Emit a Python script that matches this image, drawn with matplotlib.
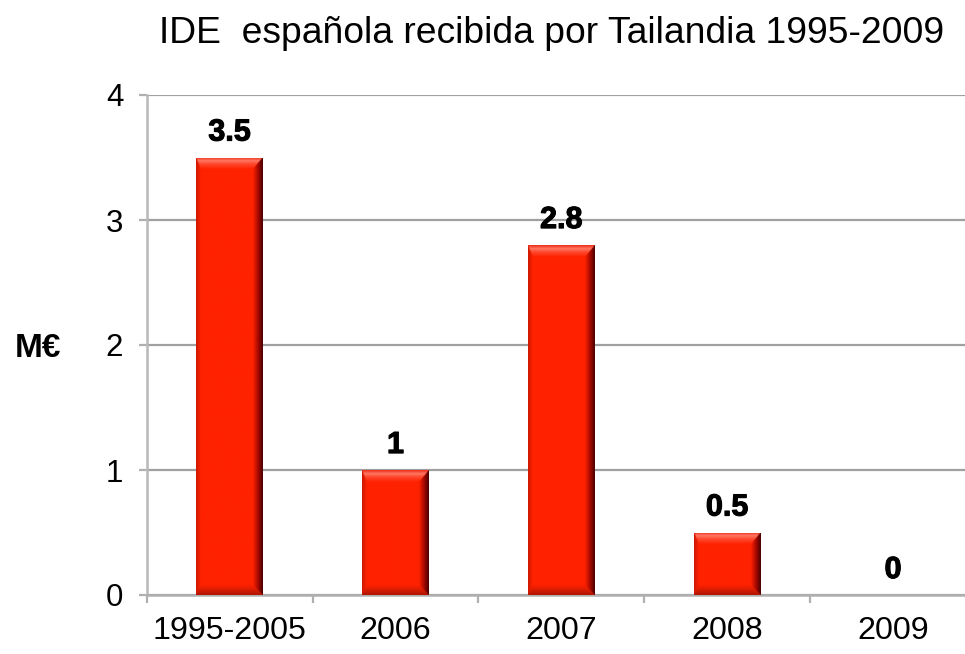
import numpy as np
import matplotlib
matplotlib.use("Agg")
import matplotlib.pyplot as plt
import matplotlib.patheffects as pe

plt.rcParams['font.family'] = ['Liberation Sans', 'DejaVu Sans']

categories = ["1995-2005", "2006", "2007", "2008", "2009"]
values = [3.5, 1, 2.8, 0.5, 0]
yticks = [0, 1, 2, 3, 4]
title = "IDE  española recibida por Tailandia 1995-2009"
ylabel = "M€"

W_PX, H_PX = 965, 654
fig = plt.figure(figsize=(W_PX / 100, H_PX / 100), dpi=100)
ax = fig.add_axes([146.7 / W_PX, 1 - 595 / H_PX, (976 - 146.7) / W_PX, 500 / H_PX])

x = np.arange(len(categories))
base = (255, 34, 0)
bars = ax.bar(x, values, width=0.4, color=np.array(base) / 255, zorder=2, linewidth=0)

ax.set_xlim(-0.5, len(categories) - 0.5)
ax.set_ylim(0, 4)
ax.set_yticks(yticks)
ax.set_yticklabels([str(t) for t in yticks], fontsize=22.5)
ax.set_xticks(x)
ax.set_xticklabels(categories, fontsize=23.2)
ax.set_xticks(np.arange(-0.5, len(categories), 1.0), minor=True)
ax.tick_params(axis='x', which='major', length=0, pad=15)
ax.tick_params(axis='x', which='minor', length=5.8, width=1.6, color='#b0b0b0')
ax.tick_params(axis='y', which='major', length=5.8, width=1.6, color='#b0b0b0', pad=11)

ax.set_axisbelow(True)
ax.grid(axis='y', color='#a0a0a0', linewidth=1.6, zorder=0)
for s in ['top', 'right']:
    ax.spines[s].set_visible(False)
ax.spines['left'].set_color('#b8b8b8')
ax.spines['left'].set_linewidth(1.8)
ax.spines['bottom'].set_color('#b0b0b0')
ax.spines['bottom'].set_linewidth(1.8)

# bevel shading for each bar, clipped to the bar patch
fig.canvas.draw()
profiles = {
    'top': ([0, 0.3, 0.55, 1], [(235, 40, 20), (255, 120, 100), (255, 75, 50), base]),
    'right': ([0, 0.5, 1], [(70, 0, 0), (170, 10, 0), base]),
    'bottom': ([0, 0.5, 1], [(175, 20, 0), (215, 28, 0), base]),
    'left': ([0, 1], [(205, 25, 0), base]),
}
widths = {'top': 12, 'right': 10, 'bottom': 10, 'left': 5}
for patch in bars:
    h = patch.get_height()
    if h <= 0:
        continue
    x0, w = patch.get_x(), patch.get_width()
    p0 = ax.transData.transform((x0, 0))
    p1 = ax.transData.transform((x0 + w, h))
    S = 3
    Wp = max(int(round((p1[0] - p0[0]) * S)), 1)
    Hp = max(int(round((p1[1] - p0[1]) * S)), 1)
    jj, ii = np.meshgrid(np.arange(Wp), np.arange(Hp))
    d = {
        'top': (ii + 0.5) / S / widths['top'],
        'bottom': (Hp - ii - 0.5) / S / widths['bottom'],
        'left': (jj + 0.5) / S / widths['left'],
        'right': (Wp - jj - 0.5) / S / widths['right'],
    }
    keys = ['top', 'bottom', 'left', 'right']
    stack = np.stack([d[k] for k in keys])
    idx = np.argmin(stack, axis=0)
    tmin = np.clip(np.min(stack, axis=0), 0, 1)
    img = np.zeros((Hp, Wp, 3))
    for c in range(3):
        img[..., c] = base[c]
    for k_i, k in enumerate(keys):
        mask = idx == k_i
        xs, cols = profiles[k]
        for c in range(3):
            img[..., c][mask] = np.interp(tmin[mask], xs, [col[c] for col in cols])
    im = ax.imshow(img / 255, extent=(x0, x0 + w, 0, h), aspect='auto',
                   interpolation='bilinear', zorder=3, origin='upper')
    im.set_clip_path(patch)

ax.set_xlim(-0.5, len(categories) - 0.5)
ax.set_ylim(0, 4)

for xi, v in zip(x, values):
    ax.annotate(f"{v:g}", (xi, v), xytext=(0, 12.2), textcoords='offset points',
                ha='center', va='baseline', fontsize=22, fontweight='bold', zorder=5,
                path_effects=[pe.withStroke(linewidth=0.8, foreground='black')])

fig.text(552 / W_PX, 1 - 43 / H_PX, title, ha='center', va='baseline', fontsize=26.8)
fig.text(15 / W_PX, 1 - 357 / H_PX, ylabel, ha='left', va='baseline', fontsize=24,
         fontweight='bold')

fig.savefig("out.png", dpi=100)
